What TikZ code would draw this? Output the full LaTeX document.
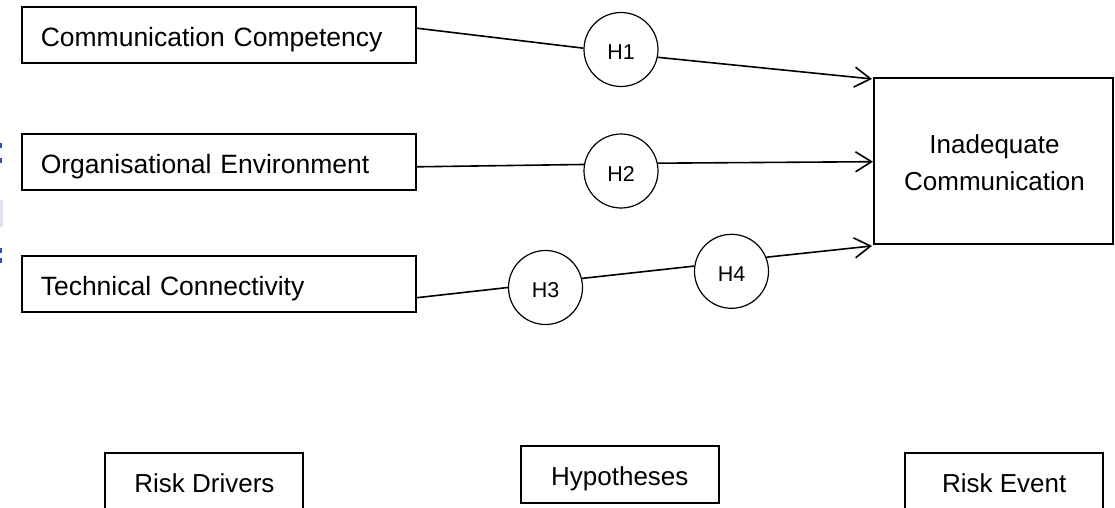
\documentclass[tikz,border=0pt]{standalone}
\usepackage{fontspec}
\setmainfont{Liberation Sans}
\usetikzlibrary{arrows.meta,calc}
\definecolor{markblue}{HTML}{2F4FB8}
\definecolor{lightmark}{HTML}{DCE3F2}
\tikzset{
  driver/.style={draw, line width=2pt, rectangle, minimum width=393.5pt, minimum height=56.5pt,
    inner xsep=18.5pt, inner ysep=0pt, text width=356.5pt, align=left,
    text height=22.5pt, text depth=0pt, font=\fontsize{26.5}{30}\selectfont},
  legendbox/.style={draw, line width=2pt, rectangle, minimum width=198pt, minimum height=57pt,
    inner sep=0pt, text height=22.5pt, text depth=0pt, font=\fontsize{26}{30}\selectfont},
  eventbox/.style={draw, line width=2pt, rectangle, minimum width=239pt, minimum height=165.5pt, inner sep=0pt},
  hyp/.style={draw, line width=1.2pt, circle, minimum size=74pt, inner sep=0pt,
    text height=20.4pt, text depth=0pt, font=\fontsize{21.5}{24}\selectfont},
  conn/.style={line width=1.6pt},
  arrowconn/.style={line width=1.6pt, -{Straight Barb[length=16pt,width=20pt]}},
}
\begin{document}
\begin{tikzpicture}[x=1pt,y=-1pt]
\useasboundingbox (0,0) rectangle (1115,508);
% left edge marks
\fill[markblue] (0,143) rectangle (2,148);
\fill[markblue] (0,158) rectangle (2,163);
\fill[lightmark] (0,200) rectangle (2.5,227);
\fill[markblue] (0,248) rectangle (2,253);
\fill[markblue] (0,258) rectangle (2,263);
% risk drivers
\node[driver] (cc) at (219,35.2) {Communication Competency};
\node[driver] (oe) at (219,161.8) {Organisational Environment};
\node[driver] (tc) at (219,284.2) {Technical Connectivity};
% risk event
\node[eventbox] (ev) at (993.5,161) {};
\node[align=center, font=\fontsize{26}{37}\selectfont] (evtext) at (994.5,163) {Inadequate\\Communication};
% hypotheses
\node[hyp] (h1) at (621,49.5) {H1};
\node[hyp] (h2) at (621,171) {H2};
\node[hyp] (h3) at (545.5,287.5) {H3};
\node[hyp] (h4) at (731.5,271.3) {H4};
% connector end points
\coordinate (s1) at ($(cc.east)+(0,-7)$);
\coordinate (s2) at ($(oe.east)+(0,5)$);
\coordinate (s3) at ($(tc.east)+(0,13.5)$);
\coordinate (t1) at ($(ev.north west)+(-1,1.7)$);
\coordinate (t2) at (873,161.7);
\coordinate (t3) at ($(ev.south west)+(-1,1.2)$);
% connectors
\draw[conn] (s1) -- (h1.178);
\draw[arrowconn] (h1.-12) -- (t1);
\draw[conn] (s2) -- (h2.170);
\draw[arrowconn] (h2.12) -- (t2);
\draw[conn] (s3) -- (h3.180);
\draw[conn] (h3.14) -- (h4.172);
\draw[arrowconn] (h4.22) -- (t3);
% legend
\node[legendbox] (rd) at (204.4,481.2) {Risk Drivers};
\node[legendbox] (hy) at (619.8,474.5) {Hypotheses};
\node[legendbox] (re) at (1004.2,481.2) {Risk Event};
\end{tikzpicture}
\end{document}
